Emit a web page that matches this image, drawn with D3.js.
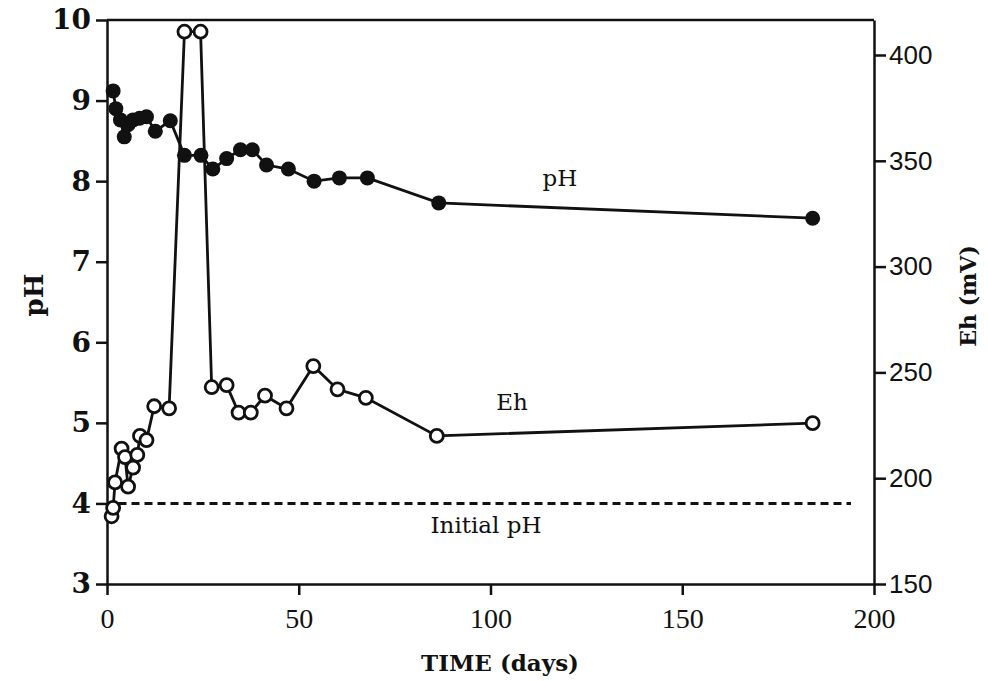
<!DOCTYPE html>
<html lang="en">
<head>
    <meta charset="UTF-8">
    <title>pH and Eh versus time</title>
    <script src="https://d3js.org/d3.v7.min.js"></script>
    <style>
        body { margin: 0; background: #fff; }
        .axis path, .axis line { stroke: #111; stroke-width: 2.5px; }
        .left text { font-family: "DejaVu Serif", serif; font-weight: bold; font-size: 28px; fill: #111; }
        .right text { font-family: "Liberation Sans", Arial, sans-serif; font-size: 26px; fill: #111; }
        .bottom text { font-family: "Liberation Serif", serif; font-size: 28px; fill: #111; }
        .label { font-family: "DejaVu Serif", serif; font-weight: bold; fill: #111; }
        .note { font-family: "DejaVu Serif", serif; font-size: 23px; fill: #111; }
    </style>
</head>
<body>
    <svg width="988" height="681"></svg>

    <script>
        // days of sampling and the measured values
        const phDays = [1.6, 2.3, 3.5, 4.5, 5.5, 6.8, 8.5, 10.3, 12.6, 16.5, 20.2, 24.5, 27.6, 31.2, 34.8, 37.9, 41.6, 47.3, 54, 60.6, 67.9, 86.5, 184];
        const phValues = [9.12, 8.90, 8.76, 8.55, 8.70, 8.76, 8.78, 8.80, 8.62, 8.75, 8.32, 8.32, 8.15, 8.28, 8.39, 8.39, 8.20, 8.15, 8.00, 8.04, 8.04, 7.73, 7.54];

        const ehDays = [1.2, 1.6, 2.1, 3.8, 4.7, 5.5, 6.8, 7.9, 8.6, 10.3, 12.3, 16.2, 20.2, 24.4, 27.3, 31.2, 34.3, 37.5, 41.2, 46.8, 53.8, 60.1, 67.5, 86, 184];
        const ehValues = [182, 186, 198, 214, 210, 196, 205, 211, 220, 218, 234, 233, 411, 411, 243, 244, 231, 231, 239, 233, 253, 242, 238, 220, 226];

        const initialPH = 4.0;
        const initialSpan = [3, 194];

        const xTicks = [0, 50, 100, 150, 200];
        const phTicks = [3, 4, 5, 6, 7, 8, 9, 10];
        const ehTicks = [150, 200, 250, 300, 350, 400];

        const svg = d3.select("svg");
        const m = { left: 107, right: 874, top: 20, bottom: 584 };

        const x = d3.scaleLinear().domain([0, 200]).range([m.left, m.right]);
        const yPH = d3.scaleLinear().domain([3, 10]).range([m.bottom, m.top]);
        // right axis: 150 mV at the bottom, 400 mV sits at y=55
        const ehPerPx = 250 / (m.bottom - 55);
        const yEh = d3.scaleLinear().domain([150, 150 + (m.bottom - m.top) * ehPerPx]).range([m.bottom, m.top]);

        // frame top
        svg.append("line")
            .attr("x1", m.left).attr("x2", m.right)
            .attr("y1", m.top).attr("y2", m.top)
            .style("stroke", "#111").style("stroke-width", 2.5);

        svg.append("g")
            .attr("class", "axis left")
            .attr("transform", `translate(${m.left},0)`)
            .call(d3.axisLeft(yPH).tickValues(phTicks).tickFormat(d3.format("d"))
                .tickSize(11).tickSizeOuter(0).tickPadding(5));

        svg.append("g")
            .attr("class", "axis right")
            .attr("transform", `translate(${m.right},0)`)
            .call(d3.axisRight(yEh).tickValues(ehTicks).tickSize(12).tickSizeOuter(0).tickPadding(3));

        svg.append("g")
            .attr("class", "axis bottom")
            .attr("transform", `translate(0,${m.bottom})`)
            .call(d3.axisBottom(x).tickValues(xTicks).tickSize(11).tickSizeOuter(0).tickPadding(13));

        // axis titles
        svg.append("text")
            .attr("class", "label")
            .attr("transform", "translate(43,295) rotate(-90)")
            .attr("text-anchor", "middle")
            .style("font-size", "26px")
            .text("pH");

        svg.append("text")
            .attr("class", "label")
            .attr("transform", "translate(976,296) rotate(-90)")
            .attr("text-anchor", "middle")
            .style("font-size", "22px")
            .text("Eh (mV)");

        svg.append("text")
            .attr("class", "label")
            .attr("x", 500).attr("y", 671)
            .attr("text-anchor", "middle")
            .style("font-size", "23px")
            .text("TIME (days)");

        // initial pH reference
        svg.append("line")
            .attr("x1", x(initialSpan[0])).attr("x2", x(initialSpan[1]))
            .attr("y1", yPH(initialPH)).attr("y2", yPH(initialPH))
            .style("stroke", "#111").style("stroke-width", 3)
            .style("stroke-dasharray", "8,5");

        const phData = phDays.map((d, i) => ({ day: d, v: phValues[i] }));
        const ehData = ehDays.map((d, i) => ({ day: d, v: ehValues[i] }));

        const phLine = d3.line().x(d => x(d.day)).y(d => yPH(d.v));
        const ehLine = d3.line().x(d => x(d.day)).y(d => yEh(d.v));

        svg.append("path")
            .datum(ehData)
            .attr("d", ehLine)
            .style("fill", "none").style("stroke", "#111").style("stroke-width", 2.8);

        svg.append("path")
            .datum(phData)
            .attr("d", phLine)
            .style("fill", "none").style("stroke", "#111").style("stroke-width", 2.8);

        svg.append("g")
            .selectAll("circle")
            .data(ehData)
            .enter().append("circle")
            .attr("cx", d => x(d.day))
            .attr("cy", d => yEh(d.v))
            .attr("r", 6.5)
            .style("fill", "#fff").style("stroke", "#111").style("stroke-width", 2.8);

        svg.append("g")
            .selectAll("circle")
            .data(phData)
            .enter().append("circle")
            .attr("cx", d => x(d.day))
            .attr("cy", d => yPH(d.v))
            .attr("r", 7.5)
            .style("fill", "#111");

        // series notes
        svg.append("text").attr("class", "note")
            .attr("x", 560).attr("y", 186).attr("text-anchor", "middle").text("pH");
        svg.append("text").attr("class", "note")
            .attr("x", 512).attr("y", 410).attr("text-anchor", "middle").text("Eh");
        svg.append("text").attr("class", "note")
            .attr("x", 486).attr("y", 533).attr("text-anchor", "middle").text("Initial pH");
    </script>
</body>
</html>
